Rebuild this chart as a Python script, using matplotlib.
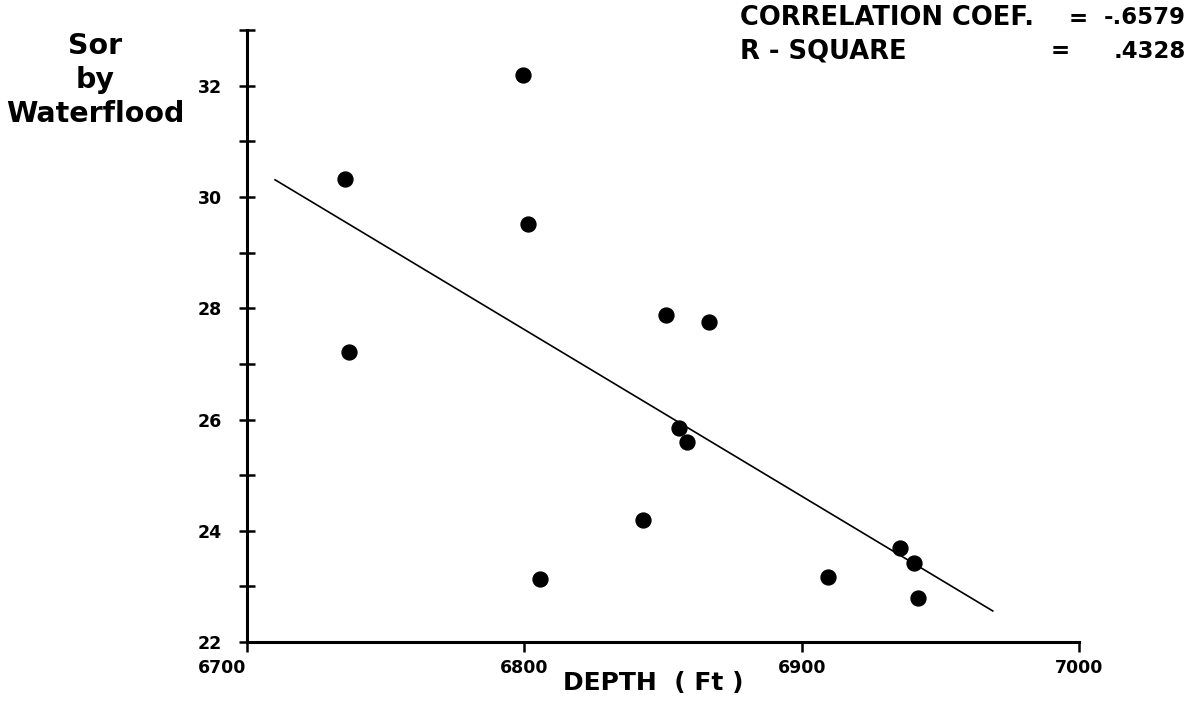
import matplotlib
matplotlib.use('Agg')
import matplotlib.pyplot as plt
from matplotlib.ticker import MultipleLocator

# data
depth = [6735.4, 6736.9, 6799.5, 6801.5, 6805.8, 6842.8, 6851.2,
         6855.7, 6858.8, 6866.5, 6909.4, 6935.2, 6940.5, 6941.7]
sor = [30.32, 27.21, 32.19, 29.52, 23.14, 24.19, 27.88,
       25.85, 25.59, 27.76, 23.17, 23.69, 23.43, 22.80]

# regression line end points
fit_x = [6710.2, 6968.8]
fit_y = [30.31, 22.56]

x_ticks = [6700, 6800, 6900, 7000]
y_ticks = [22, 24, 26, 28, 30, 32]

plt.rcParams['font.family'] = ['DejaVu Sans']
plt.rcParams['font.weight'] = 'bold'

W, H = 1192, 701
fig = plt.figure(figsize=(W / 100, H / 100), dpi=100, facecolor='white')
ax = fig.add_axes([0.207, 0.084, 0.6985, 0.873])

ax.scatter(depth, sor, s=115, color='black', zorder=3)
ax.plot(fit_x, fit_y, color='black', linewidth=1.2)

ax.set_xlim(6700, 7000)
ax.set_ylim(22, 33)
ax.set_xticks(x_ticks)
ax.set_yticks(y_ticks)
ax.yaxis.set_minor_locator(MultipleLocator(1))

for side in ['top', 'right']:
    ax.spines[side].set_visible(False)
for side in ['left', 'bottom']:
    ax.spines[side].set_linewidth(2.2)

ax.tick_params(axis='y', which='both', direction='inout', length=12, width=1.8,
               labelsize=12.5, pad=12)
ax.tick_params(axis='x', which='major', direction='out', length=7, width=1.8,
               labelsize=12.5, pad=5)
for lbl in ax.get_xticklabels() + ax.get_yticklabels():
    lbl.set_fontweight('bold')
# the 6700 label sits left of its tick in the scan
ax.get_xticklabels()[0].set_ha('right')

ax.set_xlabel('DEPTH  ( Ft )', fontsize=18, fontweight='bold', va='center')
ax.xaxis.set_label_coords((653 - 246.7) / 832.6, (642 - 683) / 612)

fig.text(95 / W, 1 - 80 / H, 'Sor\nby\nWaterflood', ha='center', va='center',
         fontsize=20.5, fontweight='bold', linespacing=1.25)

fig.text(740 / W, 1 - 18 / H, 'CORRELATION COEF.', ha='left', va='center',
         fontsize=18.5, fontweight='bold')
fig.text(740 / W, 1 - 51 / H, 'R - SQUARE', ha='left', va='center',
         fontsize=18.5, fontweight='bold')
for yy, xeq, val in [(18, 1078, '-.6579'), (51, 1060, '.4328')]:
    fig.text(xeq / W, 1 - yy / H, '=', ha='center', va='center',
             fontsize=16.5, fontweight='bold')
    fig.text(1186 / W, 1 - yy / H, val, ha='right', va='center',
             fontsize=16.5, fontweight='bold')

fig.savefig('out.png', dpi=100)
